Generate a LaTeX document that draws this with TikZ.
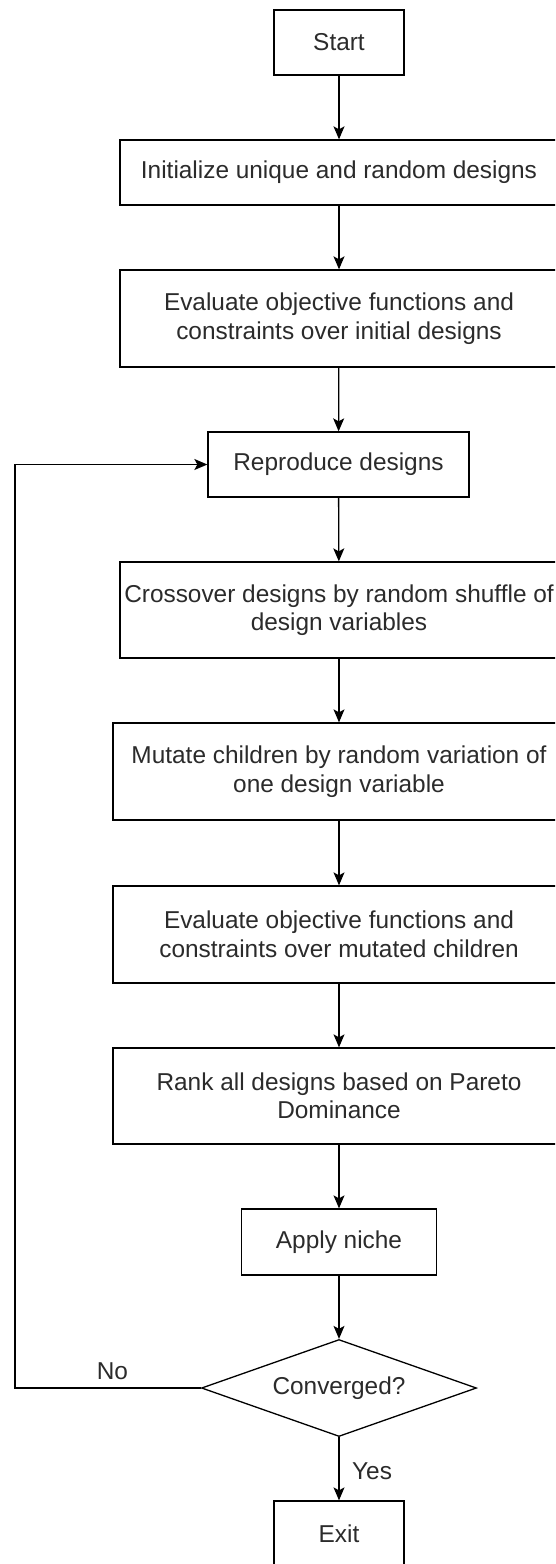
\documentclass[tikz,border=0pt]{standalone}
\usepackage{fontspec}
\setmainfont{Liberation Sans}
\usetikzlibrary{shapes.geometric,arrows.meta}
\definecolor{txt}{HTML}{2B2B2B}
\begin{document}
\begin{tikzpicture}[x=1pt,y=-1pt,
  font=\fontsize{24.4}{28.5}\selectfont,
  every node/.style={text=txt},
  box/.style={draw=black, line width=1.3pt, rectangle, inner sep=0pt, align=center},
  dec/.style={draw=black, line width=1.3pt, diamond, inner sep=0pt, aspect=2.835, minimum width=275pt, minimum height=97pt},
  arr/.style={draw=black, line width=1.3pt, -{Stealth[length=13pt,width=11pt,inset=3pt]}},
  lab/.style={inner sep=0pt}]
\useasboundingbox (0,0) rectangle (555,1564);
\clip (0,0) rectangle (555,1564);
\fill[white] (0,0) rectangle (555,1564);

\node[box, minimum width=130pt, minimum height=65pt] (start) at (339,42.5) {Start};
\node[box, minimum width=438pt, minimum height=65pt] (init) at (339,172.5) {Initialize unique and random designs};
\node[box, minimum width=438pt, minimum height=97pt] (evalA) at (339,318.5) {Evaluate objective functions and\\constraints over initial designs};
\node[box, minimum width=261pt, minimum height=65pt] (repro) at (338.5,464.5) {Reproduce designs};
\node[box, minimum width=438pt, minimum height=96pt] (cross) at (339,610) {Crossover designs by random shuffle of\\design variables};
\node[box, minimum width=452pt, minimum height=97pt] (mut) at (339,771.5) {Mutate children by random variation of\\one design variable};
\node[box, minimum width=452pt, minimum height=97pt] (evalB) at (339,934.5) {Evaluate objective functions and\\constraints over mutated children};
\node[box, minimum width=452pt, minimum height=96pt] (rank) at (339,1096) {Rank all designs based on Pareto\\Dominance};
\node[box, minimum width=195pt, minimum height=66pt] (niche) at (339,1242) {Apply niche};
\node[dec] (conv) at (339,1388) {Converged?};
\node[box, minimum width=130pt, minimum height=65pt] (exit) at (339,1533.5) {Exit};

\coordinate (lp) at (15,1388);

\draw[arr] (start) -- (init);
\draw[arr] (init) -- (evalA);
\draw[arr] (evalA) -- (repro);
\draw[arr] (repro) -- (cross);
\draw[arr] (cross) -- (mut);
\draw[arr] (mut) -- (evalB);
\draw[arr] (evalB) -- (rank);
\draw[arr] (rank) -- (niche);
\draw[arr] (niche) -- (conv);
\draw[arr] (conv) -- node[lab, pos=0.54, right, xshift=12.5pt] {Yes} (exit);
\draw[arr] (conv.west) -- node[lab, pos=0.476, above, yshift=8pt] {No} (lp) |- (repro.west);
\end{tikzpicture}
\end{document}
